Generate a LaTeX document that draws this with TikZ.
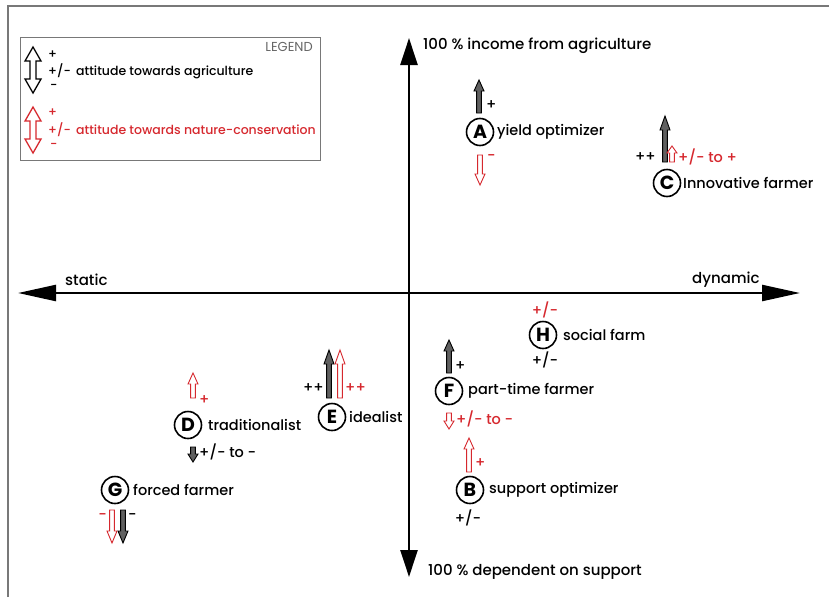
\documentclass[tikz,border=0pt]{standalone}
\usepackage{fontspec}
\IfFontExistsTF{Poppins Medium}{\setmainfont{Poppins Medium}}{\setmainfont{Poppins}}
\newfontfamily\thinfont{Poppins}
\IfFontExistsTF{Poppins Bold}{\newfontfamily\circfont{Poppins Bold}}{\newfontfamily\circfont{Poppins}}
\usetikzlibrary{arrows.meta}
\definecolor{myred}{RGB}{214,40,46}
\definecolor{bordergray}{RGB}{120,120,120}
\newcommand\blk[5][11]{%
  \pgfmathsetmacro\hh{#1*sign(#4-#5)}%
  \draw[#2] ({#3-2.4},#4) -- ({#3-2.4},{#5+\hh}) -- ({#3-5},{#5+\hh}) -- (#3,#5) -- ({#3+5},{#5+\hh}) -- ({#3+2.4},{#5+\hh}) -- ({#3+2.4},#4) -- cycle;}
\newcommand\dblk[4]{%
  \draw[#1] ({#2-3},{#3+14}) -- ({#2-8},{#3+14}) -- (#2,#3) -- ({#2+8},{#3+14}) -- ({#2+3},{#3+14})
   -- ({#2+3},{#4-14}) -- ({#2+8},{#4-14}) -- (#2,#4) -- ({#2-8},{#4-14}) -- ({#2-3},{#4-14}) -- cycle;}
\begin{document}
\begin{tikzpicture}[x=1pt,y=-1pt,
  blackarr/.style={draw=black, fill=gray!75!black, line width=0.9},
  redarr/.style={draw=myred, fill=white, line width=0.9},
  legblack/.style={draw=black, fill=white, line width=1.3},
  legred/.style={draw=myred, fill=white, line width=1.3},
  circ/.style={circle, draw, line width=1.6, minimum size=27, inner sep=0, font=\circfont\fontsize{19}{19}\selectfont},
  lbl/.style={anchor=west, inner sep=0, font=\fontsize{14.5}{16}\selectfont},
  axlbl/.style={anchor=west, inner sep=0, font=\fontsize{15}{17}\selectfont},
  leg/.style={anchor=west, inner sep=0, font=\fontsize{12.5}{14}\selectfont},
  axis/.style={line width=2.4, {Triangle[length=38, width=16]}-{Triangle[length=38, width=16]}},
  vaxis/.style={line width=2.4, {Triangle[length=27, width=17]}-{Triangle[length=27, width=17]}}
]
\useasboundingbox (0,0) rectangle (829,597);
% border
\draw[bordergray, line width=1.5] (8,597) -- (8,6) -- (829,6);
% legend
\draw[bordergray, line width=1] (20,37) rectangle (320,160);
\node[anchor=east, inner sep=0, text=gray!80!black, font=\thinfont\fontsize{13}{14}\selectfont] (legtitle) at (313,47) {LEGEND};
\dblk{legblack}{33}{47}{93}
\node[leg] (lb1) at (48,55) {+};
\node[leg] (lb2) at (48,71) {+/-\, attitude towards agriculture};
\node[leg] (lb3) at (50,87) {-};
\dblk{legred}{33}{107}{153}
\node[leg, text=myred] (lr1) at (48,113) {+};
\node[leg, text=myred] (lr2) at (48,130) {+/-\, attitude towards nature-conservation};
\node[leg, text=myred] (lr3) at (50,146) {-};
% axes
\coordinate (L) at (18,293);
\coordinate (R) at (800,293);
\coordinate (T) at (409,38);
\coordinate (Bt) at (409,577);
\draw[axis] (L) -- (R);
\draw[vaxis] (Bt) -- (T);
\node[axlbl] (top) at (423,46) {100 \% income from agriculture};
\node[axlbl] (bot) at (428,572) {100 \% dependent on support};
\node[axlbl] (static) at (65,280) {static};
\node[axlbl] (dyn) at (692,280) {dynamic};
% A
\node[circ] (A) at (480,132) {A};
\node[lbl] (Al) at (497,132) {yield optimizer};
\blk{blackarr}{479}{113}{80}
\node[lbl] (Ap) at (486,105) {+};
\blk{redarr}{480}{155}{185}
\node[lbl, text=myred] (Am) at (487,158) {-};
% C
\node[circ] (C) at (667,183) {C};
\node[lbl] (Cl) at (683,183) {Innovative farmer};
\blk[14]{blackarr}{665}{162}{116}
\node[lbl, anchor=east] (Cpp) at (656,157) {++};
\blk[7]{redarr}{672}{162}{146}
\node[lbl, text=myred] (Cr) at (678,157) {+/- to +};
% H
\node[circ] (H) at (543,335) {H};
\node[lbl] (Hl) at (563,335) {social farm};
\node[lbl, anchor=center, text=myred] (Hr) at (545,310) {+/-};
\node[lbl, anchor=center] (Hb) at (545,360) {+/-};
% F
\node[circ] (F) at (449,391) {F};
\node[lbl] (Fl) at (468,391) {part-time farmer};
\blk{blackarr}{449}{373}{340}
\node[lbl] (Fp) at (455,366) {+};
\blk[8]{redarr}{449}{413}{429}
\node[lbl, text=myred] (Fr) at (456,419) {+/- to -};
% E
\node[circ] (E) at (332,417) {E};
\node[lbl] (El) at (349,417) {idealist};
\blk[14]{blackarr}{329}{398}{350}
\blk[14]{redarr}{340}{398}{350}
\node[lbl, anchor=east] (Ebp) at (324,388) {++};
\node[lbl, text=myred] (Erp) at (345,388) {++};
% D
\node[circ] (D) at (188,425) {D};
\node[lbl] (Dl) at (208,425) {traditionalist};
\blk{redarr}{193}{398}{373}
\node[lbl, text=myred] (Dp) at (199,400) {+};
\blk[8]{blackarr}{193}{447}{462}
\node[lbl] (Db) at (199,452) {+/- to -};
% G
\node[circ] (G) at (115,490) {G};
\node[lbl] (Gl) at (133,490) {forced farmer};
\blk[12]{redarr}{112}{510}{543}
\blk[12]{blackarr}{123}{510}{543}
\node[lbl, anchor=east, text=myred] (Gr) at (107,517) {-};
\node[lbl] (Gb) at (128,517) {-};
% B
\node[circ] (B) at (470,490) {B};
\node[lbl] (Bl) at (489,490) {support optimizer};
\blk{redarr}{469}{472}{438}
\node[lbl, text=myred] (Bp) at (475,463) {+};
\node[lbl, anchor=center] (Bb) at (468,518) {+/-};
\end{tikzpicture}
\end{document}
